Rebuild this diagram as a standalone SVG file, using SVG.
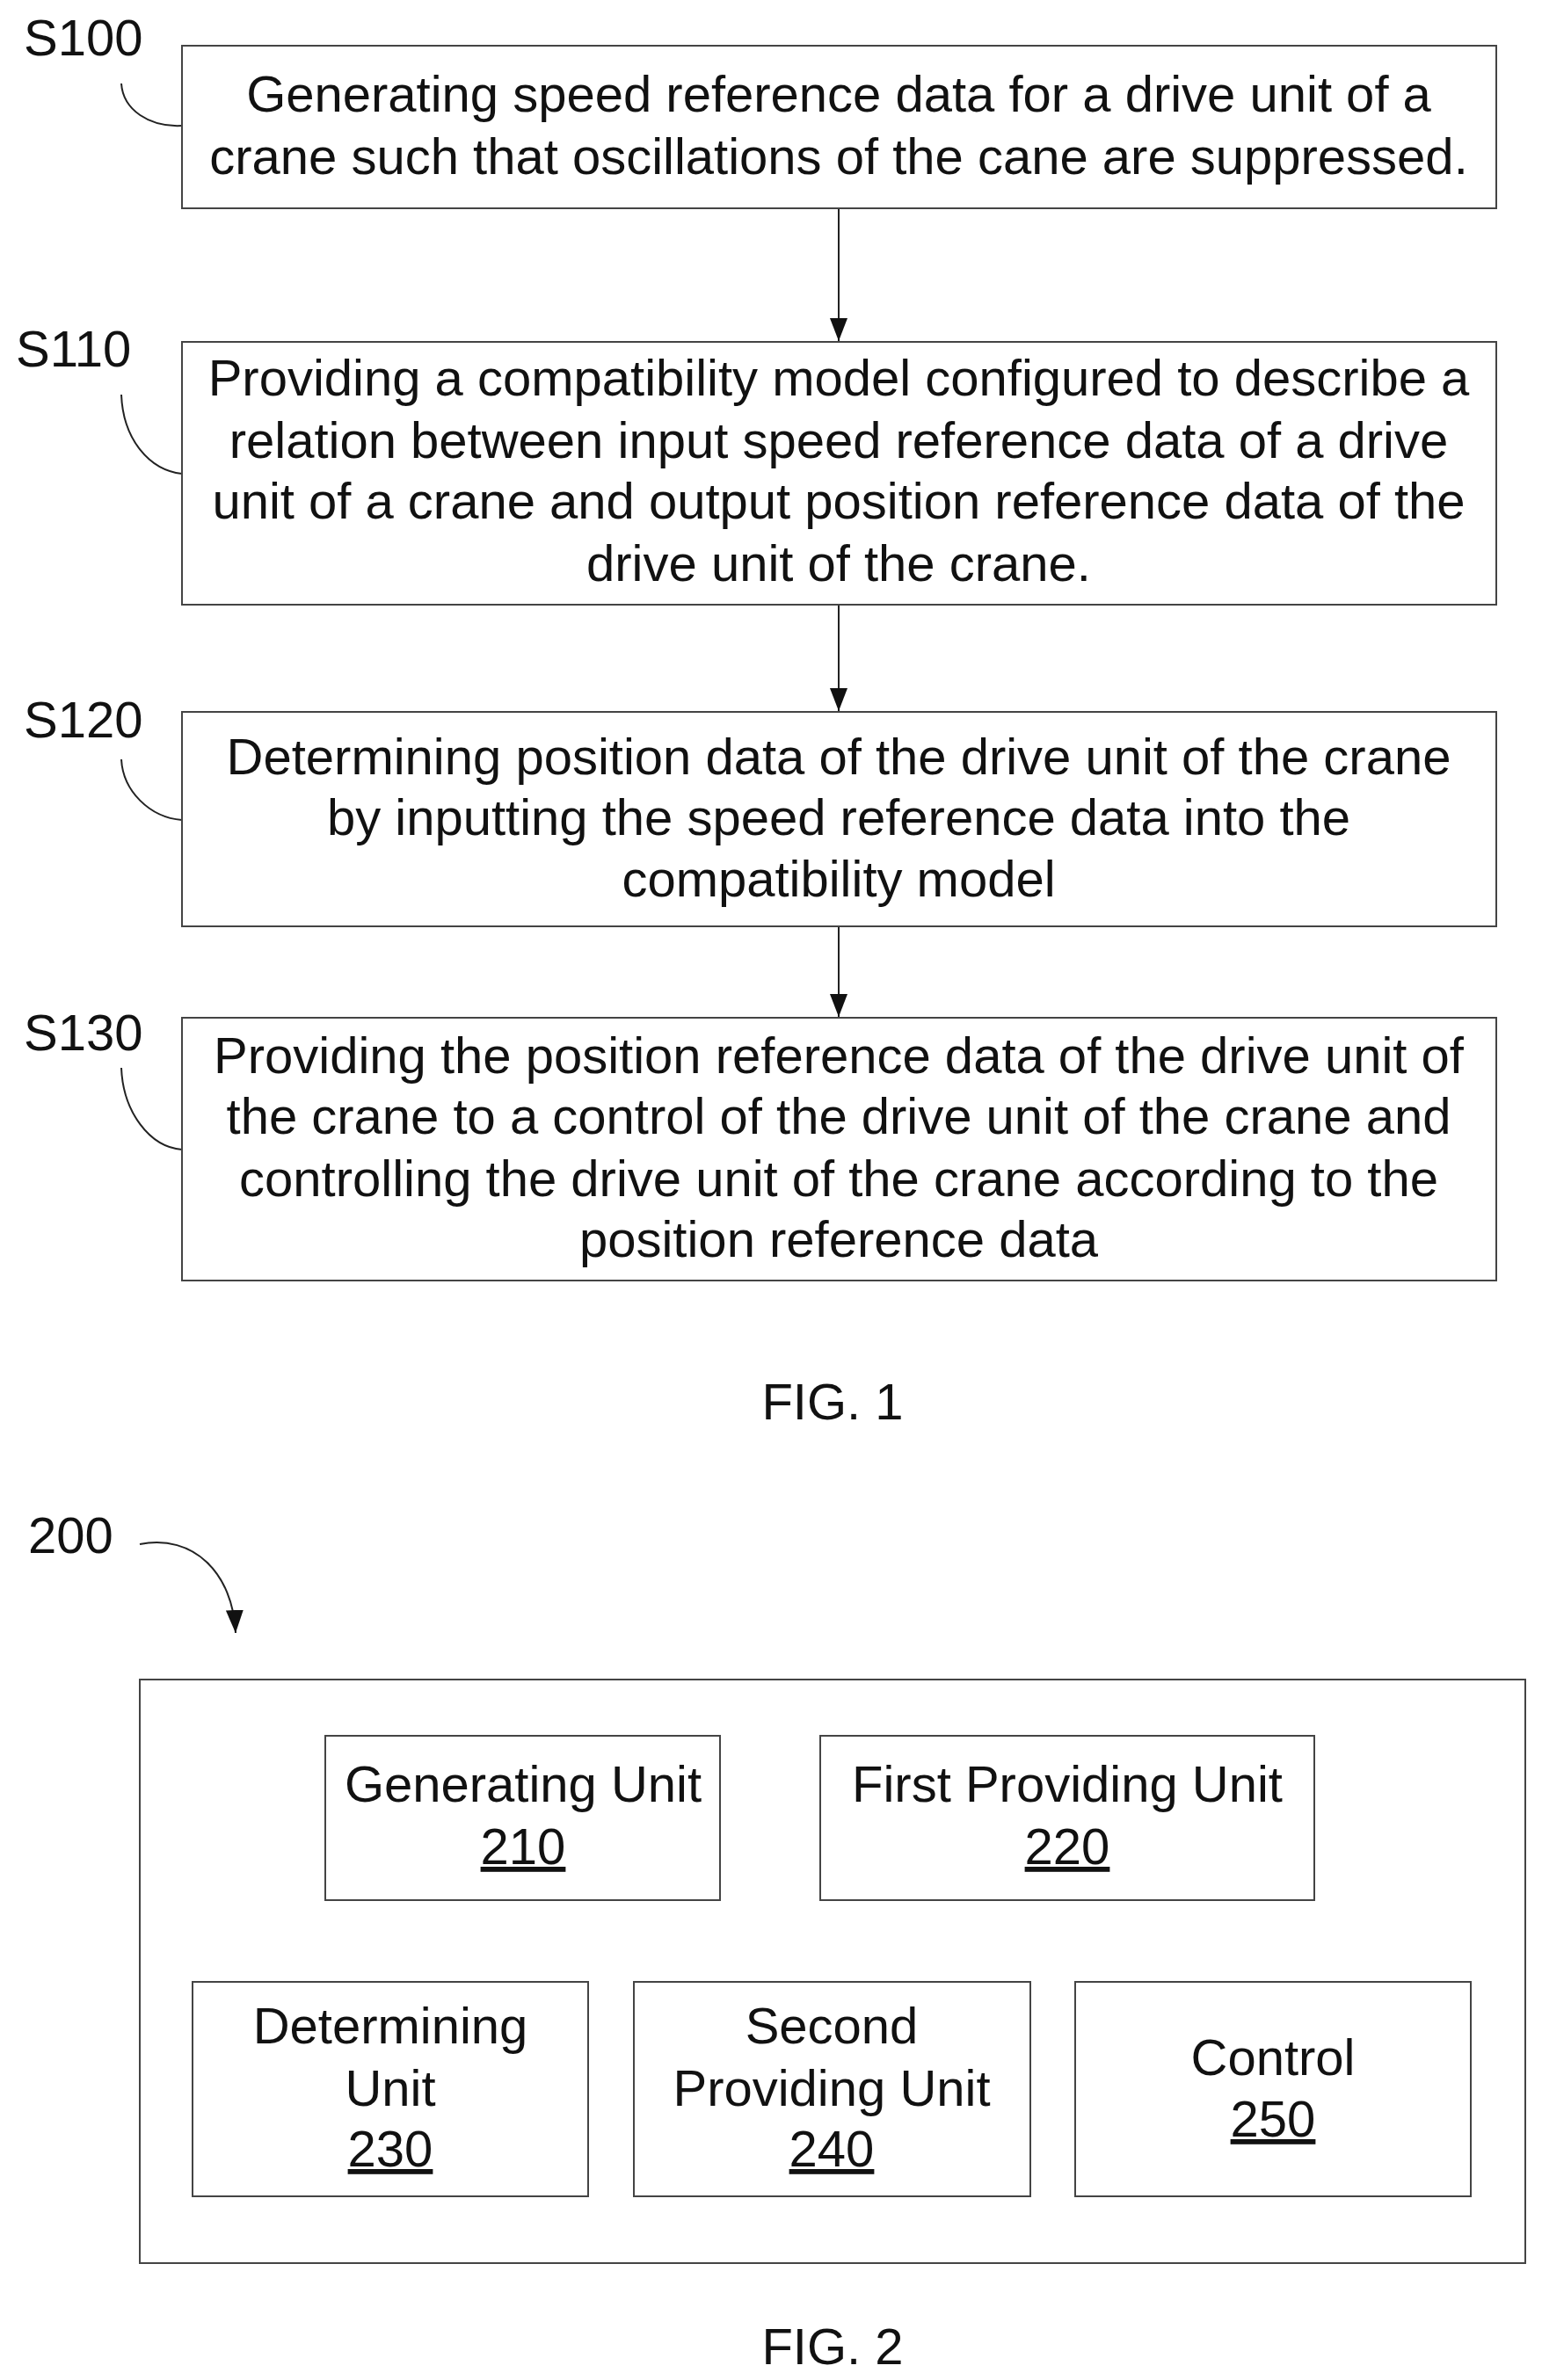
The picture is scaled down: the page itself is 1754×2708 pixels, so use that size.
<svg xmlns="http://www.w3.org/2000/svg" width="1754" height="2708" viewBox="0 0 1754 2708">
<style>
text{font-family:"Liberation Sans",Arial,sans-serif;font-size:58px;fill:#111;text-anchor:middle}
.lbl{text-anchor:start}
.box{fill:#fff;stroke:#444;stroke-width:2}
.c{fill:none;stroke:#222;stroke-width:2}
</style>
<defs>
<marker id="ah2" markerWidth="26" markerHeight="20" refX="26" refY="10" orient="auto" markerUnits="userSpaceOnUse"><path d="M0,0 L26,10 L0,20 Z" fill="#111"/></marker></defs>
<rect width="1754" height="2708" fill="#fff"/>
<g id="connectors">
<line class="c" x1="954" y1="237" x2="954" y2="388" marker-end="url(#ah2)"/>
<line class="c" x1="954" y1="688" x2="954" y2="809" marker-end="url(#ah2)"/>
<line class="c" x1="954" y1="1054" x2="954" y2="1157" marker-end="url(#ah2)"/>
<path class="c" d="M138,95 C140,125 170,145 207,143"/>
<path class="c" d="M138,449 C140,500 170,535 207,539"/>
<path class="c" d="M138,864 C140,900 170,930 207,933"/>
<path class="c" d="M138,1215 C140,1265 170,1305 207,1308"/>
<path class="c" d="M159,1757 C220,1745 265,1790 268,1858" marker-end="url(#ah2)"/>
</g>
<g id="S100"><text class="lbl" x="27" y="63">S100</text><rect class="box" x="207" y="52" width="1495" height="185"/>
<text x="954" y="127">Generating speed reference data for a drive unit of a</text>
<text x="954" y="198">crane such that oscillations of the cane are suppressed.</text></g>
<g id="S110"><text class="lbl" x="18" y="417">S110</text><rect class="box" x="207" y="389" width="1495" height="299"/>
<text x="954" y="450">Providing a compatibility model configured to describe a</text>
<text x="954" y="521">relation between input speed reference data of a drive</text>
<text x="954" y="590">unit of a crane and output position reference data of the</text>
<text x="954" y="661">drive unit of the crane.</text></g>
<g id="S120"><text class="lbl" x="27" y="839">S120</text><rect class="box" x="207" y="810" width="1495" height="244"/>
<text x="954" y="881">Determining position data of the drive unit of the crane</text>
<text x="954" y="950">by inputting the speed reference data into the</text>
<text x="954" y="1020">compatibility model</text></g>
<g id="S130"><text class="lbl" x="27" y="1195">S130</text><rect class="box" x="207" y="1158" width="1495" height="299"/>
<text x="954" y="1221">Providing the position reference data of the drive unit of</text>
<text x="954" y="1290">the crane to a control of the drive unit of the crane and</text>
<text x="954" y="1361">controlling the drive unit of the crane according to the</text>
<text x="954" y="1430">position reference data</text></g>
<text x="947" y="1615">FIG. 1</text>
<g id="n200"><text class="lbl" x="32" y="1767">200</text><rect class="box" x="159" y="1911" width="1576" height="664"/></g>
<g id="n210"><rect class="box" x="370" y="1975" width="449" height="187"/><text x="595" y="2050">Generating Unit</text><text x="595" y="2121" text-decoration="underline">210</text></g>
<g id="n220"><rect class="box" x="933" y="1975" width="562" height="187"/><text x="1214" y="2050">First Providing Unit</text><text x="1214" y="2121" text-decoration="underline">220</text></g>
<g id="n230"><rect class="box" x="219" y="2255" width="450" height="244"/><text x="444" y="2325">Determining</text><text x="444" y="2396">Unit</text><text x="444" y="2465" text-decoration="underline">230</text></g>
<g id="n240"><rect class="box" x="721" y="2255" width="451" height="244"/><text x="946" y="2325">Second</text><text x="946" y="2396">Providing Unit</text><text x="946" y="2465" text-decoration="underline">240</text></g>
<g id="n250"><rect class="box" x="1223" y="2255" width="450" height="244"/><text x="1448" y="2361">Control</text><text x="1448" y="2431" text-decoration="underline">250</text></g>
<text x="947" y="2690">FIG. 2</text>
</svg>
